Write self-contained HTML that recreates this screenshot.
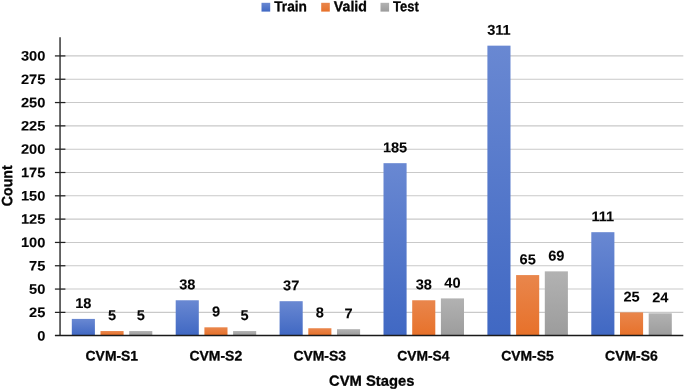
<!DOCTYPE html>
<html><head><meta charset="utf-8"><title>CVM Stages chart</title>
<style>html,body{margin:0;padding:0;background:#fff;}body{width:685px;height:390px;overflow:hidden;font-family:"Liberation Sans",sans-serif;}svg{display:block;will-change:transform;}</style>
</head><body>
<svg width="685" height="390" viewBox="0 0 685 390" text-rendering="geometricPrecision">
<defs>
<linearGradient id="gb" x1="0" y1="0" x2="0" y2="1"><stop offset="0" stop-color="#6988d2"/><stop offset="1" stop-color="#4068c3"/></linearGradient>
<linearGradient id="go" x1="0" y1="0" x2="0" y2="1"><stop offset="0" stop-color="#e9864c"/><stop offset="1" stop-color="#e7712a"/></linearGradient>
<linearGradient id="gg" x1="0" y1="0" x2="0" y2="1"><stop offset="0" stop-color="#b2b2b2"/><stop offset="1" stop-color="#9c9c9c"/></linearGradient>
</defs>
<rect width="685" height="390" fill="#fff"/>
<g stroke="#c9c9c9" stroke-width="1.1">
<line x1="60.05" x2="683.3" y1="312.38" y2="312.38"/>
<line x1="60.05" x2="683.3" y1="289.07" y2="289.07"/>
<line x1="60.05" x2="683.3" y1="265.75" y2="265.75"/>
<line x1="60.05" x2="683.3" y1="242.44" y2="242.44"/>
<line x1="60.05" x2="683.3" y1="219.12" y2="219.12"/>
<line x1="60.05" x2="683.3" y1="195.81" y2="195.81"/>
<line x1="60.05" x2="683.3" y1="172.50" y2="172.50"/>
<line x1="60.05" x2="683.3" y1="149.18" y2="149.18"/>
<line x1="60.05" x2="683.3" y1="125.86" y2="125.86"/>
<line x1="60.05" x2="683.3" y1="102.55" y2="102.55"/>
<line x1="60.05" x2="683.3" y1="79.24" y2="79.24"/>
<line x1="60.05" x2="683.3" y1="55.92" y2="55.92"/>
</g>
<rect x="71.80" y="318.91" width="23.1" height="16.59" fill="url(#gb)"/>
<rect x="100.50" y="331.04" width="23.1" height="4.46" fill="url(#go)"/>
<rect x="129.20" y="331.04" width="23.1" height="4.46" fill="url(#gg)"/>
<rect x="175.70" y="300.26" width="23.1" height="35.24" fill="url(#gb)"/>
<rect x="204.40" y="327.31" width="23.1" height="8.19" fill="url(#go)"/>
<rect x="233.10" y="331.04" width="23.1" height="4.46" fill="url(#gg)"/>
<rect x="279.60" y="301.19" width="23.1" height="34.31" fill="url(#gb)"/>
<rect x="308.30" y="328.24" width="23.1" height="7.26" fill="url(#go)"/>
<rect x="337.00" y="329.17" width="23.1" height="6.33" fill="url(#gg)"/>
<rect x="383.50" y="163.17" width="23.1" height="172.33" fill="url(#gb)"/>
<rect x="412.20" y="300.26" width="23.1" height="35.24" fill="url(#go)"/>
<rect x="440.90" y="298.40" width="23.1" height="37.10" fill="url(#gg)"/>
<rect x="487.40" y="45.66" width="23.1" height="289.84" fill="url(#gb)"/>
<rect x="516.10" y="275.08" width="23.1" height="60.42" fill="url(#go)"/>
<rect x="544.80" y="271.35" width="23.1" height="64.15" fill="url(#gg)"/>
<rect x="591.30" y="232.18" width="23.1" height="103.32" fill="url(#gb)"/>
<rect x="620.00" y="312.38" width="23.1" height="23.12" fill="url(#go)"/>
<rect x="648.70" y="313.32" width="23.1" height="22.18" fill="url(#gg)"/>
<line x1="60.05" x2="60.05" y1="37.3" y2="336.0" stroke="#444" stroke-width="1.6"/>
<g stroke="#222" stroke-width="1.25">
<line x1="54.9" x2="65.4" y1="312.38" y2="312.38"/>
<line x1="54.9" x2="65.4" y1="289.07" y2="289.07"/>
<line x1="54.9" x2="65.4" y1="265.75" y2="265.75"/>
<line x1="54.9" x2="65.4" y1="242.44" y2="242.44"/>
<line x1="54.9" x2="65.4" y1="219.12" y2="219.12"/>
<line x1="54.9" x2="65.4" y1="195.81" y2="195.81"/>
<line x1="54.9" x2="65.4" y1="172.50" y2="172.50"/>
<line x1="54.9" x2="65.4" y1="149.18" y2="149.18"/>
<line x1="54.9" x2="65.4" y1="125.86" y2="125.86"/>
<line x1="54.9" x2="65.4" y1="102.55" y2="102.55"/>
<line x1="54.9" x2="65.4" y1="79.24" y2="79.24"/>
<line x1="54.9" x2="65.4" y1="55.92" y2="55.92"/>
</g>
<line x1="54.9" x2="683.3" y1="335.5" y2="335.5" stroke="#1a1a1a" stroke-width="1.35"/>
<g font-family="Liberation Sans, sans-serif" font-weight="bold" fill="#050505" stroke="#050505" stroke-width="0.08">
<text transform="translate(83.35,307.96) rotate(0.1) scale(1.0350,1)" font-size="14.10" text-anchor="middle">18</text>
<text transform="translate(112.05,320.09) rotate(0.1) scale(1.0350,1)" font-size="14.10" text-anchor="middle">5</text>
<text transform="translate(140.75,320.09) rotate(0.1) scale(1.0350,1)" font-size="14.10" text-anchor="middle">5</text>
<text transform="translate(187.25,289.31) rotate(0.1) scale(1.0350,1)" font-size="14.10" text-anchor="middle">38</text>
<text transform="translate(215.95,316.36) rotate(0.1) scale(1.0350,1)" font-size="14.10" text-anchor="middle">9</text>
<text transform="translate(244.65,320.09) rotate(0.1) scale(1.0350,1)" font-size="14.10" text-anchor="middle">5</text>
<text transform="translate(291.15,290.24) rotate(0.1) scale(1.0350,1)" font-size="14.10" text-anchor="middle">37</text>
<text transform="translate(319.85,317.29) rotate(0.1) scale(1.0350,1)" font-size="14.10" text-anchor="middle">8</text>
<text transform="translate(348.55,318.22) rotate(0.1) scale(1.0350,1)" font-size="14.10" text-anchor="middle">7</text>
<text transform="translate(395.05,152.22) rotate(0.1) scale(1.0350,1)" font-size="14.10" text-anchor="middle">185</text>
<text transform="translate(423.75,289.31) rotate(0.1) scale(1.0350,1)" font-size="14.10" text-anchor="middle">38</text>
<text transform="translate(452.45,287.45) rotate(0.1) scale(1.0350,1)" font-size="14.10" text-anchor="middle">40</text>
<text transform="translate(498.95,34.71) rotate(0.1) scale(1.0350,1)" font-size="14.10" text-anchor="middle">311</text>
<text transform="translate(527.65,264.13) rotate(0.1) scale(1.0350,1)" font-size="14.10" text-anchor="middle">65</text>
<text transform="translate(556.35,260.40) rotate(0.1) scale(1.0350,1)" font-size="14.10" text-anchor="middle">69</text>
<text transform="translate(602.85,221.23) rotate(0.1) scale(1.0350,1)" font-size="14.10" text-anchor="middle">111</text>
<text transform="translate(631.55,301.44) rotate(0.1) scale(1.0350,1)" font-size="14.10" text-anchor="middle">25</text>
<text transform="translate(660.25,302.37) rotate(0.1) scale(1.0350,1)" font-size="14.10" text-anchor="middle">24</text>
<text transform="translate(45.40,340.40) rotate(0.1) scale(1.0700,1)" font-size="13.70" text-anchor="end">0</text>
<text transform="translate(45.40,317.08) rotate(0.1) scale(1.0700,1)" font-size="13.70" text-anchor="end">25</text>
<text transform="translate(45.40,293.77) rotate(0.1) scale(1.0700,1)" font-size="13.70" text-anchor="end">50</text>
<text transform="translate(45.40,270.45) rotate(0.1) scale(1.0700,1)" font-size="13.70" text-anchor="end">75</text>
<text transform="translate(45.40,247.14) rotate(0.1) scale(1.0700,1)" font-size="13.70" text-anchor="end">100</text>
<text transform="translate(45.40,223.82) rotate(0.1) scale(1.0700,1)" font-size="13.70" text-anchor="end">125</text>
<text transform="translate(45.40,200.51) rotate(0.1) scale(1.0700,1)" font-size="13.70" text-anchor="end">150</text>
<text transform="translate(45.40,177.19) rotate(0.1) scale(1.0700,1)" font-size="13.70" text-anchor="end">175</text>
<text transform="translate(45.40,153.88) rotate(0.1) scale(1.0700,1)" font-size="13.70" text-anchor="end">200</text>
<text transform="translate(45.40,130.56) rotate(0.1) scale(1.0700,1)" font-size="13.70" text-anchor="end">225</text>
<text transform="translate(45.40,107.25) rotate(0.1) scale(1.0700,1)" font-size="13.70" text-anchor="end">250</text>
<text transform="translate(45.40,83.94) rotate(0.1) scale(1.0700,1)" font-size="13.70" text-anchor="end">275</text>
<text transform="translate(45.40,60.62) rotate(0.1) scale(1.0700,1)" font-size="13.70" text-anchor="end">300</text>
</g>
<g font-family="Liberation Sans, sans-serif" font-weight="bold" fill="#050505" stroke="#050505" stroke-width="0.3" stroke-linejoin="round">
<text transform="translate(85.58,360.45) rotate(0.1) scale(1.0074,1)" font-size="13.81" stroke-width="0.3">CVM-S1</text>
<text transform="translate(189.48,360.45) rotate(0.1) scale(1.0107,1)" font-size="13.81" stroke-width="0.3">CVM-S2</text>
<text transform="translate(293.38,360.45) rotate(0.1) scale(1.0096,1)" font-size="13.81" stroke-width="0.3">CVM-S3</text>
<text transform="translate(397.28,360.45) rotate(0.1) scale(1.0013,1)" font-size="13.81" stroke-width="0.3">CVM-S4</text>
<text transform="translate(501.18,360.45) rotate(0.1) scale(1.0074,1)" font-size="13.81" stroke-width="0.3">CVM-S5</text>
<text transform="translate(605.08,360.45) rotate(0.1) scale(1.0096,1)" font-size="13.81" stroke-width="0.3">CVM-S6</text>
<text transform="translate(329.04,385.70) rotate(0.1) scale(1.0079,1)" font-size="14.68" stroke-width="0.3">CVM Stages</text>
<text transform="translate(12.3,185.6) rotate(-90.1) translate(-20.63,-0.15) rotate(0) scale(0.9450,1)" font-size="14.97" stroke-width="0.3">Count</text>
<text transform="translate(274.20,11.30) rotate(0.1) scale(0.9523,1)" font-size="14.39" stroke-width="0.3">Train</text>
<text transform="translate(333.85,11.30) rotate(0.1) scale(0.9868,1)" font-size="14.39" stroke-width="0.3">Valid</text>
<text transform="translate(393.10,11.30) rotate(0.1) scale(0.9026,1)" font-size="14.39" stroke-width="0.3">Test</text>
</g>
<rect x="261.5" y="2.8" width="8.7" height="8.8" fill="url(#gb)"/>
<rect x="321.2" y="2.8" width="8.6" height="8.8" fill="url(#go)"/>
<rect x="380.5" y="2.8" width="8.6" height="8.8" fill="url(#gg)"/>
</svg>
</body></html>
